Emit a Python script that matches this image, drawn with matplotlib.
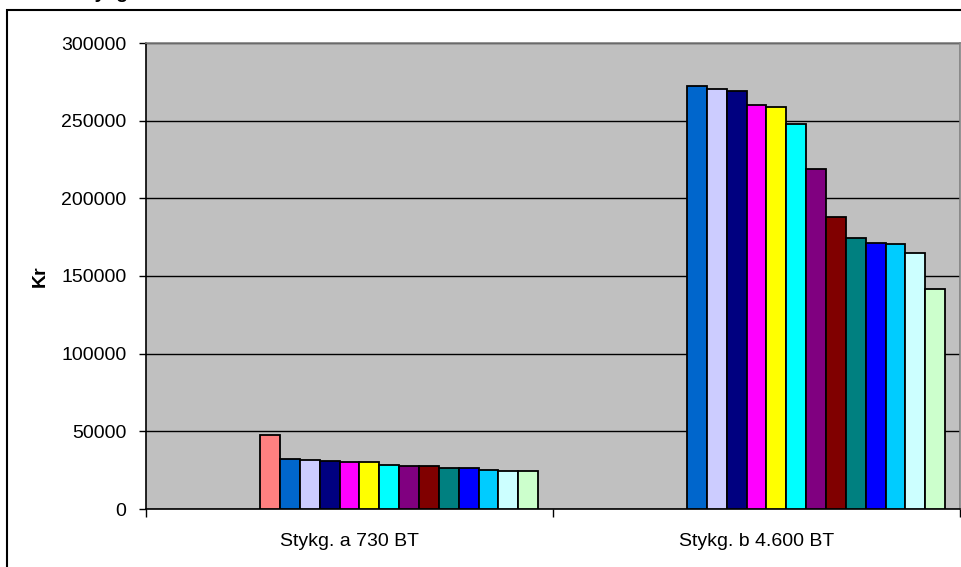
import matplotlib
matplotlib.use("Agg")
import matplotlib.pyplot as plt
from matplotlib.patches import Rectangle
import numpy as np

plt.rcParams['font.family'] = ['Liberation Sans', 'DejaVu Sans']

# data: two cargo categories, 19 series slots (the first 5 have no values)
categories = ["Stykg. a 730 BT", "Stykg. b 4.600 BT"]
n_slots = 19
first_slot = 5
series_colors = ["#FF8080", "#0066CC", "#CCCCFF", "#000080", "#FF00FF", "#FFFF00",
                 "#00FFFF", "#800080", "#800000", "#008080", "#0000FF", "#00CCFF",
                 "#CCFFFF", "#CCFFCC"]
vals_a = [47800, 32400, 31300, 31200, 30500, 30400, 28500, 27500, 27500,
          26400, 26300, 25300, 24300, 24300]
vals_b = [None, 272300, 270200, 269300, 260100, 259000, 247600, 218900, 188200,
          174500, 171400, 170600, 164600, 141400]
yticks = [0, 50000, 100000, 150000, 200000, 250000, 300000]

fig = plt.figure(figsize=(9.62, 5.67), dpi=100)
ax = fig.add_axes([146/962, 1-509/567, 814/962, 466/567])
ax.set_facecolor("#C0C0C0")

# excel-style gap width of 150%
w = 1.0 / (n_slots + 1.5)
for gi, vals in enumerate([vals_a, vals_b]):
    for si, v in enumerate(vals):
        if v is None:
            continue
        slot = first_slot + si
        x = gi - n_slots * w / 2 + (slot + 0.5) * w
        ax.bar(x, v, width=w, color=series_colors[si], edgecolor="black",
               linewidth=1.3, zorder=3)

ax.set_xlim(-0.5, 1.5)
ax.set_ylim(0, 300000)
ax.set_yticks(yticks)
ax.set_yticklabels([str(t) for t in yticks], fontsize=14)
ax.yaxis.grid(True, color="black", linewidth=1.0, zorder=1)
ax.tick_params(axis="y", direction="out", length=5, width=1, pad=9)

ax.set_xticks([0, 1])
ax.set_xticklabels(categories, fontsize=14)
ax.set_xticks([-0.5, 0.5, 1.5], minor=True)
ax.tick_params(axis="x", which="major", length=0, pad=17)
ax.tick_params(axis="x", which="minor", direction="out", length=6, width=1)

ax.set_ylabel("Kr", fontsize=14, fontweight="bold", labelpad=9)

for s in ["left", "bottom"]:
    ax.spines[s].set_color("black")
    ax.spines[s].set_linewidth(1.2)
for s in ["top", "right"]:
    ax.spines[s].set_color("#808080")
    ax.spines[s].set_linewidth(1.2)

# chart area frame
fig.patches.append(Rectangle((7/962, -0.1), 1.2, 1.1 - 10/567,
                             transform=fig.transFigure, fill=False,
                             edgecolor="black", linewidth=1.5))

fig.text(75/962, 1 + 2/567, "Stykgods", fontsize=14, fontweight="bold",
         va="baseline", ha="left")

fig.savefig("out.png", dpi=100)
